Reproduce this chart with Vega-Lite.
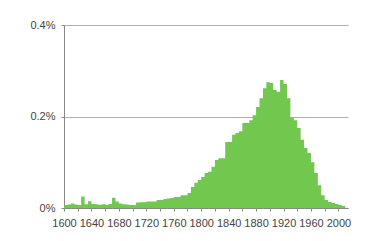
{
  "$schema": "https://vega.github.io/schema/vega-lite/v6.json",
  "width": 284,
  "height": 183,
  "autosize": {"type": "none"},
  "padding": {"left": 64, "top": 25, "right": 25, "bottom": 33},
  "background": "white",
  "config": {"view": {"stroke": null}},
  "data": {"values": [
    {"year": 1600, "pct": 0.0066}, {"year": 1605, "pct": 0.0077}, {"year": 1610, "pct": 0.010}, {"year": 1615, "pct": 0.0077},
    {"year": 1620, "pct": 0.0066}, {"year": 1625, "pct": 0.025}, {"year": 1630, "pct": 0.008}, {"year": 1635, "pct": 0.015},
    {"year": 1640, "pct": 0.009}, {"year": 1645, "pct": 0.008}, {"year": 1650, "pct": 0.007}, {"year": 1655, "pct": 0.008},
    {"year": 1660, "pct": 0.007}, {"year": 1665, "pct": 0.009}, {"year": 1670, "pct": 0.0225}, {"year": 1675, "pct": 0.014},
    {"year": 1680, "pct": 0.010}, {"year": 1685, "pct": 0.008}, {"year": 1690, "pct": 0.0077}, {"year": 1695, "pct": 0.0066},
    {"year": 1700, "pct": 0.0066}, {"year": 1705, "pct": 0.012}, {"year": 1710, "pct": 0.0125}, {"year": 1715, "pct": 0.0125},
    {"year": 1720, "pct": 0.014}, {"year": 1725, "pct": 0.014}, {"year": 1730, "pct": 0.014}, {"year": 1735, "pct": 0.0175},
    {"year": 1740, "pct": 0.0175}, {"year": 1745, "pct": 0.0197}, {"year": 1750, "pct": 0.021}, {"year": 1755, "pct": 0.022},
    {"year": 1760, "pct": 0.024}, {"year": 1765, "pct": 0.024}, {"year": 1770, "pct": 0.028}, {"year": 1775, "pct": 0.028},
    {"year": 1780, "pct": 0.033}, {"year": 1785, "pct": 0.046}, {"year": 1790, "pct": 0.055}, {"year": 1795, "pct": 0.061},
    {"year": 1800, "pct": 0.068}, {"year": 1805, "pct": 0.0765}, {"year": 1810, "pct": 0.079}, {"year": 1815, "pct": 0.090},
    {"year": 1820, "pct": 0.105}, {"year": 1825, "pct": 0.109}, {"year": 1830, "pct": 0.109}, {"year": 1835, "pct": 0.144},
    {"year": 1840, "pct": 0.144}, {"year": 1845, "pct": 0.160}, {"year": 1850, "pct": 0.164}, {"year": 1855, "pct": 0.168},
    {"year": 1860, "pct": 0.186}, {"year": 1865, "pct": 0.186}, {"year": 1870, "pct": 0.192}, {"year": 1875, "pct": 0.203},
    {"year": 1880, "pct": 0.221}, {"year": 1885, "pct": 0.240}, {"year": 1890, "pct": 0.262}, {"year": 1895, "pct": 0.275},
    {"year": 1900, "pct": 0.273}, {"year": 1905, "pct": 0.258}, {"year": 1910, "pct": 0.254}, {"year": 1915, "pct": 0.280},
    {"year": 1920, "pct": 0.271}, {"year": 1925, "pct": 0.240}, {"year": 1930, "pct": 0.197}, {"year": 1935, "pct": 0.192},
    {"year": 1940, "pct": 0.175}, {"year": 1945, "pct": 0.149}, {"year": 1950, "pct": 0.131}, {"year": 1955, "pct": 0.120},
    {"year": 1960, "pct": 0.100}, {"year": 1965, "pct": 0.0765}, {"year": 1970, "pct": 0.050}, {"year": 1975, "pct": 0.028},
    {"year": 1980, "pct": 0.0175}, {"year": 1985, "pct": 0.013}, {"year": 1990, "pct": 0.011}, {"year": 1995, "pct": 0.0087},
    {"year": 2000, "pct": 0.0066}, {"year": 2005, "pct": 0.0044}, {"year": 2010, "pct": 0.0044}
  ]},
  "mark": {"type": "area", "interpolate": "step-after", "color": "#72c84f"},
  "encoding": {
    "x": {
      "field": "year", "type": "quantitative",
      "scale": {"domain": [1600, 2014], "nice": false, "zero": false},
      "axis": {
        "title": null, "grid": false,
        "values": [1600, 1620, 1640, 1660, 1680, 1700, 1720, 1740, 1760, 1780, 1800, 1820, 1840, 1860, 1880, 1900, 1920, 1940, 1960, 1980, 2000],
        "labelExpr": "datum.value % 40 == 0 ? datum.value + '' : ''",
        "labelFont": "Liberation Sans", "labelFontSize": 11, "labelColor": "#444444",
        "labelPadding": 6, "tickSize": 3, "tickColor": "#888888", "domainColor": "#888888",
        "labelOverlap": false, "labelFlush": false
      }
    },
    "y": {
      "field": "pct", "type": "quantitative",
      "scale": {"domain": [0, 0.4], "nice": false},
      "axis": {
        "title": null, "values": [0, 0.2, 0.4],
        "labelExpr": "datum.value + '%'",
        "labelFont": "Liberation Sans", "labelFontSize": 11, "labelColor": "#444444",
        "labelPadding": 6, "tickSize": 3, "tickColor": "#888888", "domainColor": "#888888",
        "gridColor": "#b0b0b0", "gridOpacity": 1
      }
    }
  }
}
